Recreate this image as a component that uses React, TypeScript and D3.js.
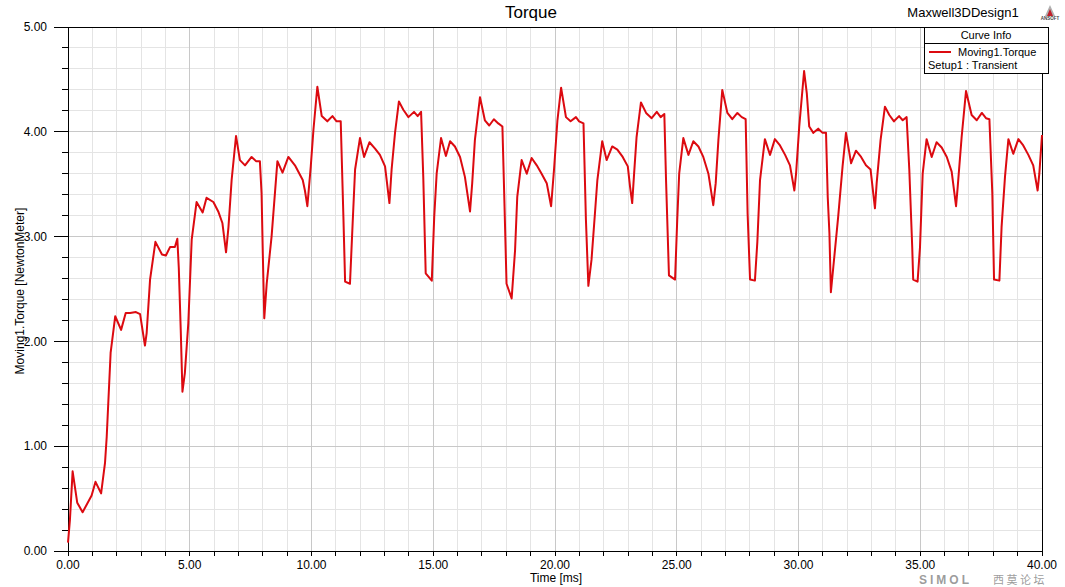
import React from "react";
import * as d3 from "d3";

const timeMs = [0.00,0.08,0.19,0.38,0.60,0.97,1.13,1.36,1.52,1.59,1.75,1.94,2.18,2.37,2.55,2.79,2.96,3.16,3.23,3.37,3.59,3.86,4.02,4.19,4.39,4.49,4.55,4.63,4.70,4.80,4.94,5.08,5.28,5.53,5.69,5.97,6.17,6.34,6.49,6.59,6.72,6.90,7.06,7.27,7.54,7.72,7.88,7.95,8.00,8.06,8.16,8.36,8.60,8.81,9.05,9.32,9.64,9.73,9.83,9.97,10.08,10.24,10.42,10.65,10.86,11.03,11.20,11.31,11.38,11.58,11.69,11.79,11.99,12.16,12.38,12.61,12.81,13.02,13.20,13.29,13.43,13.59,13.77,13.98,14.21,14.36,14.50,14.59,14.69,14.94,15.04,15.14,15.32,15.52,15.69,15.89,16.10,16.30,16.51,16.60,16.71,16.92,17.12,17.30,17.49,17.67,17.84,17.91,18.01,18.22,18.36,18.45,18.63,18.84,19.04,19.25,19.45,19.66,19.84,19.96,20.10,20.25,20.45,20.64,20.86,20.99,21.17,21.27,21.37,21.50,21.64,21.74,21.94,22.12,22.35,22.56,22.78,22.99,23.08,23.17,23.24,23.35,23.53,23.74,23.97,24.18,24.34,24.49,24.56,24.68,24.93,25.02,25.10,25.27,25.48,25.68,25.89,26.09,26.30,26.50,26.60,26.71,26.87,27.08,27.28,27.49,27.67,27.83,27.91,28.01,28.21,28.31,28.42,28.62,28.83,29.03,29.24,29.45,29.65,29.83,29.90,30.03,30.23,30.34,30.44,30.61,30.81,30.99,31.13,31.20,31.27,31.33,31.43,31.63,31.81,31.95,32.16,32.36,32.57,32.77,32.96,33.14,33.21,33.37,33.55,33.73,33.92,34.13,34.28,34.44,34.55,34.67,34.71,34.89,34.99,35.10,35.26,35.47,35.67,35.88,36.09,36.29,36.47,36.54,36.70,36.88,37.11,37.32,37.53,37.70,37.84,37.96,38.03,38.25,38.34,38.48,38.62,38.82,39.03,39.23,39.44,39.64,39.82,39.89,40.00];

const torque = [0.08,0.30,0.76,0.46,0.37,0.53,0.66,0.55,0.84,1.09,1.89,2.24,2.11,2.27,2.27,2.28,2.26,1.96,2.08,2.59,2.95,2.83,2.82,2.90,2.90,2.98,2.70,2.11,1.52,1.70,2.17,2.97,3.33,3.23,3.37,3.33,3.24,3.13,2.85,3.09,3.54,3.96,3.73,3.68,3.76,3.72,3.72,3.41,2.84,2.22,2.55,3.00,3.72,3.61,3.76,3.68,3.54,3.44,3.29,3.67,4.02,4.43,4.15,4.10,4.15,4.10,4.10,3.19,2.57,2.55,3.13,3.64,3.94,3.76,3.90,3.84,3.78,3.67,3.32,3.64,3.99,4.29,4.21,4.14,4.19,4.15,4.19,3.57,2.65,2.58,3.19,3.60,3.94,3.77,3.91,3.86,3.76,3.57,3.24,3.51,3.92,4.33,4.11,4.06,4.12,4.08,4.05,3.44,2.55,2.41,2.87,3.38,3.73,3.60,3.75,3.68,3.60,3.51,3.29,3.64,4.11,4.42,4.14,4.10,4.14,4.10,4.08,3.16,2.53,2.78,3.22,3.54,3.91,3.73,3.86,3.83,3.76,3.67,3.48,3.32,3.57,3.95,4.28,4.18,4.13,4.19,4.14,4.17,3.54,2.63,2.59,3.16,3.60,3.94,3.78,3.91,3.86,3.76,3.60,3.30,3.51,3.92,4.40,4.18,4.12,4.18,4.14,4.12,3.22,2.59,2.58,2.95,3.54,3.93,3.78,3.93,3.87,3.78,3.68,3.44,3.60,4.05,4.58,4.37,4.05,3.99,4.03,3.99,3.99,3.38,3.03,2.47,2.71,3.19,3.67,3.99,3.70,3.82,3.76,3.68,3.64,3.27,3.51,3.92,4.24,4.16,4.10,4.15,4.11,4.14,3.64,2.90,2.59,2.57,2.90,3.60,3.93,3.76,3.90,3.85,3.76,3.62,3.29,3.48,3.95,4.39,4.16,4.11,4.18,4.13,4.12,3.41,2.59,2.58,3.09,3.57,3.93,3.79,3.93,3.87,3.78,3.68,3.44,3.60,3.97];

const xMajorTicks = [0, 5, 10, 15, 20, 25, 30, 35, 40];
const yMajorTicks = [0, 1, 2, 3, 4, 5];

const W = 1065, H = 587;
const L = 68, R = 1042, T = 27, B = 551;
const FONT = "'Liberation Sans', Arial, sans-serif";

export default function App() {
  const x = d3.scaleLinear().domain([0, 40]).range([L, R]);
  const y = d3.scaleLinear().domain([0, 5]).range([B, T]);
  const xMinor = d3.range(0, 40.001, 1);
  const yMinor = d3.range(0, 5.001, 0.2);
  const line = d3.line<number>().x((_, i) => x(timeMs[i])).y((d) => y(d));
  const pathD = line(torque) || "";

  return (
    <svg width={W} height={H} style={{ position: "absolute", left: 0, top: 0, background: "#fff" }} fontFamily={FONT}>
      <rect x={0} y={0} width={W} height={H} fill="#fff" />
      {/* minor grid */}
      {xMinor.map((t) => (
        <line key={"xm" + t} x1={x(t)} x2={x(t)} y1={T} y2={B} stroke="#e4e4e4" strokeWidth={1} shapeRendering="crispEdges" />
      ))}
      {yMinor.map((v) => (
        <line key={"ym" + v} x1={L} x2={R} y1={y(v)} y2={y(v)} stroke="#e4e4e4" strokeWidth={1} shapeRendering="crispEdges" />
      ))}
      {/* major grid */}
      {xMajorTicks.map((t) => (
        <line key={"xM" + t} x1={x(t)} x2={x(t)} y1={T} y2={B} stroke="#c8c8c8" strokeWidth={1} shapeRendering="crispEdges" />
      ))}
      {yMajorTicks.map((v) => (
        <line key={"yM" + v} x1={L} x2={R} y1={y(v)} y2={y(v)} stroke="#c8c8c8" strokeWidth={1} shapeRendering="crispEdges" />
      ))}
      {/* frame */}
      <line x1={L} x2={R} y1={T} y2={T} stroke="#000" shapeRendering="crispEdges" />
      <line x1={R} x2={R} y1={T} y2={B} stroke="#000" shapeRendering="crispEdges" />
      <line x1={L} x2={L} y1={T} y2={B} stroke="#000" shapeRendering="crispEdges" />
      <line x1={L} x2={R} y1={B} y2={B} stroke="#000" shapeRendering="crispEdges" />
      {/* y ticks */}
      {yMinor.map((v) => (
        <line key={"yt" + v} x1={L - 6} x2={L} y1={y(v)} y2={y(v)} stroke="#000" shapeRendering="crispEdges" />
      ))}
      {yMajorTicks.map((v) => (
        <g key={"yl" + v}>
          <line x1={L - 14} x2={L} y1={y(v)} y2={y(v)} stroke="#000" shapeRendering="crispEdges" />
          <text x={47} y={y(v)} dy="0.35em" textAnchor="end" fontSize={12} fill="#000">{v.toFixed(2)}</text>
        </g>
      ))}
      {/* x ticks */}
      {xMinor.map((t) => (
        <line key={"xt" + t} x1={x(t)} x2={x(t)} y1={B} y2={B + 5} stroke="#000" shapeRendering="crispEdges" />
      ))}
      {xMajorTicks.map((t) => (
        <text key={"xl" + t} x={x(t)} y={569} textAnchor="middle" fontSize={12} fill="#000">{t.toFixed(2)}</text>
      ))}
      {/* curve */}
      <path d={pathD} fill="none" stroke="#dc0a10" strokeWidth={2} strokeLinejoin="round" />
      {/* titles */}
      <text x={531} y={18} textAnchor="middle" fontSize={17} fill="#000">Torque</text>
      <text x={963} y={17} textAnchor="middle" fontSize={13} fill="#000">Maxwell3DDesign1</text>
      <text x={556} y={582} textAnchor="middle" fontSize={12} fill="#000">Time [ms]</text>
      <text transform={`translate(24,${(T + B) / 2 + 2}) rotate(-90)`} textAnchor="middle" fontSize={12} fill="#000">Moving1.Torque [NewtonMeter]</text>
      {/* ansoft logo */}
      <g>
        <polygon points="1045,16 1050,5 1055,16" fill="#b0b0b0" />
        <polygon points="1047,16 1050,9 1053,16" fill="#c0202a" />
        <text x={1050} y={20} textAnchor="middle" fontSize={4.5} fontWeight="bold" fill="#444">ANSOFT</text>
      </g>
      {/* legend */}
      <rect x={924.5} y={27.5} width={124} height={46} fill="#fff" stroke="#000" shapeRendering="crispEdges" />
      <line x1={924.5} x2={1048.5} y1={43.5} y2={43.5} stroke="#000" shapeRendering="crispEdges" />
      <text x={986} y={39} textAnchor="middle" fontSize={11} fill="#000">Curve Info</text>
      <line x1={929} x2={951} y1={52} y2={52} stroke="#dc0a10" strokeWidth={2} />
      <text x={958} y={56} fontSize={11} fill="#000">Moving1.Torque</text>
      <text x={928} y={69} fontSize={11} fill="#000">Setup1 : Transient</text>
      {/* watermark */}
      <text x={919} y={584} fontSize={12} fontWeight="bold" fill="#8a8a8a" fillOpacity={0.85} letterSpacing={3}>SIMOL</text>
      <text x={993} y={584} fontSize={11} fill="#8a8a8a" fillOpacity={0.85} fontFamily="'Noto Sans CJK SC', sans-serif" letterSpacing={2.5}>西莫论坛</text>
    </svg>
  );
}
